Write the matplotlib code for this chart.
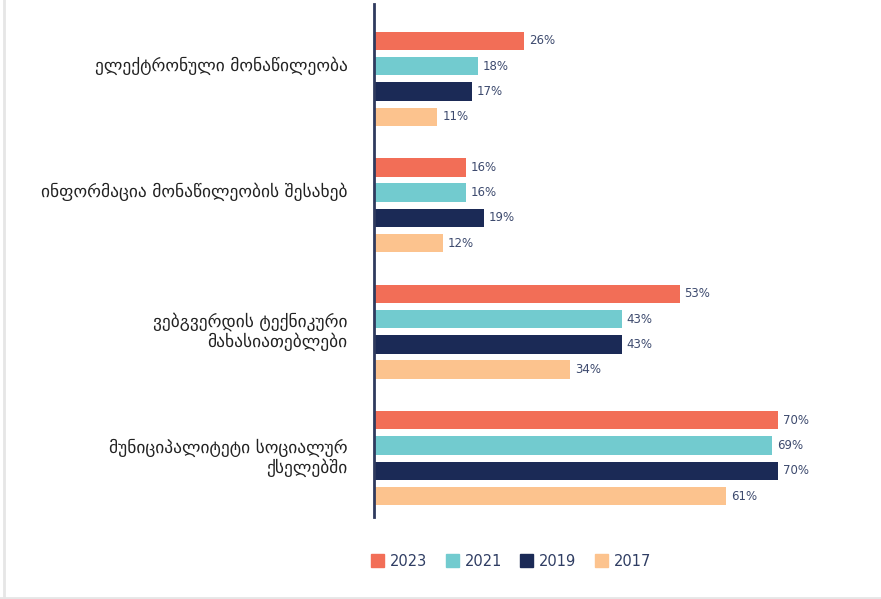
import matplotlib
matplotlib.use("Agg")
import matplotlib.pyplot as plt
from matplotlib.lines import Line2D
from matplotlib.patches import Patch

plt.rcParams['font.family'] = ['DejaVu Sans']

# categories (top to bottom)
categories = [
    'ელექტრონული მონაწილეობა',
    'ინფორმაცია მონაწილეობის შესახებ',
    'ვებგვერდის ტექნიკური\nმახასიათებლები',
    'მუნიციპალიტეტი სოციალურ\nქსელებში',
]
years = ['2023', '2021', '2019', '2017']
v2023 = [26, 16, 53, 70]
v2021 = [18, 16, 43, 69]
v2019 = [17, 19, 43, 70]
v2017 = [11, 12, 34, 61]
series = [v2023, v2021, v2019, v2017]
colors = ['#f26e57', '#72cbcf', '#1b2a56', '#fcc38e']

W, H = 881, 599
fig = plt.figure(figsize=(W / 100, H / 100), dpi=100)
ax = fig.add_axes([374 / W, 1 - 517 / H, (870 - 374) / W, (517 - 4) / H])

group_gap = 5
offsets = [-1.5, -0.5, 0.5, 1.5]
bar_h = 0.73

for s, vals in enumerate(series):
    ys = [g * group_gap + offsets[s] for g in range(len(categories))]
    bars = ax.barh(ys, vals, height=bar_h, color=colors[s], label=years[s])
    for b, v in zip(bars, vals):
        ax.annotate(f'{v}%', (b.get_width(), b.get_y() + b.get_height() / 2),
                    xytext=(3.5, 0), textcoords='offset points',
                    va='center', ha='left', fontsize=8.5, color='#3d4a6e')

ax.set_xlim(0, 86)
ax.set_ylim(17.33, -2.96)

# category labels
for g, lab in enumerate(categories):
    dy = 0 if '\n' in lab else 9.5
    ax.annotate(lab, (0, g * group_gap), xycoords=('axes fraction', 'data'),
                xytext=(-19, dy), textcoords='offset points',
                ha='right', va='center', fontsize=12.5, color='#222222',
                linespacing=1.1)

ax.set_xticks([])
ax.set_yticks([])
for side in ['top', 'right', 'bottom']:
    ax.spines[side].set_visible(False)
ax.spines['left'].set_color('#2f3a5e')
ax.spines['left'].set_linewidth(2)

handles = [Patch(color=c) for c in colors]
fig.legend(handles, years, loc='center', bbox_to_anchor=(511 / W, 1 - 561 / H),
           ncol=4, frameon=False, fontsize=10.5, labelcolor='#2f3d63',
           handlelength=0.9, handleheight=0.9, handletextpad=0.4,
           columnspacing=1.25)

# light frame on left and bottom
fig.add_artist(Line2D([3.5 / W, 3.5 / W], [0, 1], color='#e6e6e6', lw=2))
fig.add_artist(Line2D([0, 1], [1.5 / H, 1.5 / H], color='#e6e6e6', lw=2))

fig.savefig('out.png', dpi=100)
